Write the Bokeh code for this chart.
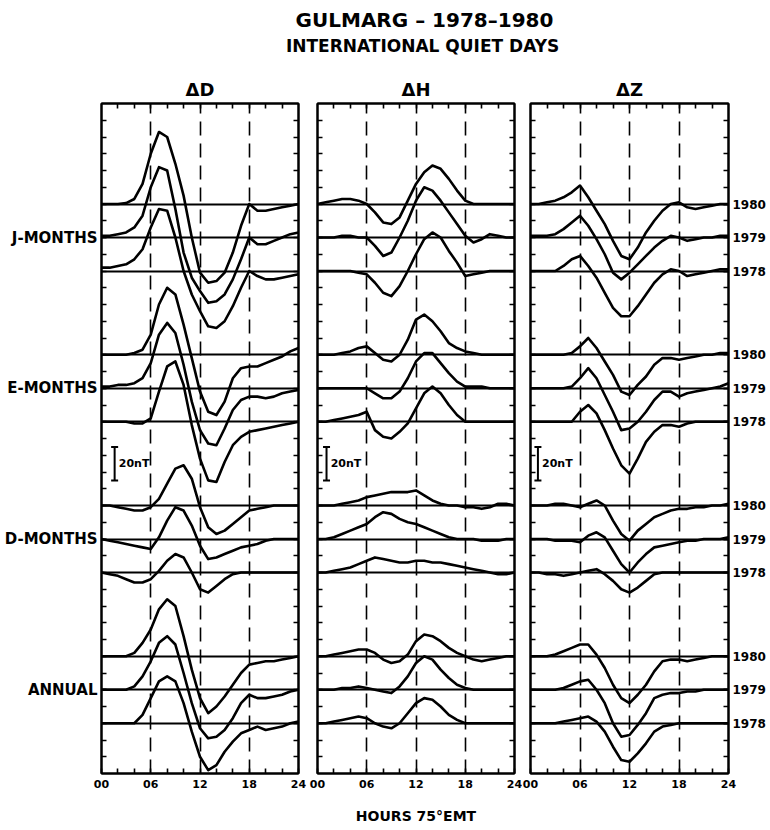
from bokeh.plotting import figure
from bokeh.models import (Range1d, LinearAxis, FixedTicker, PrintfTickFormatter,
                          Whisker, TeeHead, ColumnDataSource)
from bokeh.layouts import column, row
from bokeh.embed import file_html
from bokeh.resources import INLINE
from bokeh.core.properties import value

# ---------------- data (nT, hourly, 00..24 h 75°EMT) ----------------
HOURS = list(range(25))
COMPONENTS = ["ΔD", "ΔH", "ΔZ"]
SEASONS = ["J-MONTHS", "E-MONTHS", "D-MONTHS", "ANNUAL"]
YEARS = ["1980", "1979", "1978"]
X_TICKS = [0, 6, 12, 18, 24]
X_MINOR = [2, 4, 8, 10, 14, 16, 20, 22]
SCALE_NT = 20

D_J_1980 = [0, 0, 0, 0.5, 3, 12, 30, 43, 40, 24, 5, -20, -41, -47, -46, -41, -29, -13, 0, -4, -4, -3, -2, -1, 0]
D_J_1979 = [1, 1, 2, 3, 6, 13, 30, 42, 40, 17, -9, -24, -32, -39, -38, -34, -25, -13, 0, -4, -4, -2, 0, 2, 3]
D_J_1978 = [2, 2, 3, 4, 7, 13, 26, 37, 36, 20, 0, -14, -24, -33, -34, -30, -21, -10, 0, -3, -5, -5, -4, -3, -2]
D_E_1980 = [0, 0, 0, 0, 1, 3, 12, 30, 40, 36, 18, -2, -22, -34, -36, -28, -14, -8, -7, -7, -5, -3, -1, 2, 4]
D_E_1979 = [1, 1, 2, 2, 3, 6, 15, 32, 39, 33, 14, -8, -25, -33, -34, -24, -13, -7, -5, -5, -6, -5, -3, -2, -1]
D_E_1978 = [0, 0, 0, 0, -1, -1, 2, 18, 33, 36, 22, -2, -22, -35, -36, -24, -14, -9, -6, -5, -4, -3, -2, -1, 0]
D_D_1980 = [0, 0, -1, -2, -3, -3, -1, 4, 13, 22, 24, 16, -1, -13, -17, -15, -11, -7, -3, -2, -1, 0, 0, 0, 0]
D_D_1979 = [0, -1, -2, -3, -4, -5, -6, 1, 11, 19, 17, 8, -4, -12, -11, -9, -7, -5, -4, -3, -1, 0, 0, 0, 0]
D_D_1978 = [0, -1, -2, -4, -6, -6, -4, 1, 7, 11, 9, 0, -10, -12, -8, -4, -1, 0, 0, 0, 0, 0, 0, 0, 0]
D_A_1980 = [0, 0, 0, 0, 2, 8, 16, 28, 34, 30, 12, -8, -25, -34, -30, -24, -17, -10, -5, -4, -3, -3, -2, -1, 0]
D_A_1979 = [0, 0, 0, 0, 2, 8, 17, 28, 32, 27, 10, -8, -23, -29, -28, -24, -17, -8, -3, -5, -5, -4, -3, -1, 0]
D_A_1978 = [0, 0, 0, 0, 0, 5, 15, 25, 28, 25, 12, -5, -20, -28, -25, -17, -11, -6, -4, -2, -4, -3, -2, 0, 1]

H_J_1980 = [0, 1, 2, 3, 3, 2, 0, -5, -11, -12, -8, 2, 12, 19, 23, 21, 15, 8, 2, 0, 0, 0, 0, 0, 0]
H_J_1979 = [0, 0, 0, 1, 1, 0, 0, -5, -11, -9, 0, 10, 22, 30, 28, 22, 15, 8, 1, -3, -1, 2, 1, 0, 0]
H_J_1978 = [0, 0, 0, 0, 0, -1, -2, -7, -13, -15, -9, 0, 10, 19, 23, 20, 12, 5, -3, -2, -1, 0, 0, 0, 0]
H_E_1980 = [0, 0, 0, 1, 2, 4, 5, 1, -3, -4, 0, 9, 21, 24, 20, 14, 7, 4, 2, 1, 0, 0, 0, 0, 0]
H_E_1979 = [0, 0, 0, 0, 0, 0, 0, -3, -6, -6, -2, 6, 16, 21, 21, 15, 9, 4, 1, 1, 1, 0, 0, 0, 0]
H_E_1978 = [0, 0, 1, 2, 3, 4, 6, -5, -9, -10, -6, -1, 8, 17, 21, 17, 10, 4, 0, 0, 0, 0, 0, 0, 0]
H_D_1980 = [0, 0, 0, 1, 2, 3, 5, 6, 7, 8, 8, 8, 9, 6, 3, 1, 0, 0, -1, -1, -2, -1, 1, 1, 0]
H_D_1979 = [0, 0, 1, 3, 5, 7, 9, 13, 16, 15, 12, 10, 9, 7, 5, 3, 1, 0, 0, 0, -1, -1, -1, 0, 0]
H_D_1978 = [0, 0, 1, 2, 3, 5, 7, 9, 8, 7, 6, 6, 7, 7, 6, 6, 5, 4, 3, 2, 1, 0, -1, -1, 0]
H_A_1980 = [0, 0, 1, 2, 3, 4, 4, 2, -2, -4, -3, 1, 9, 13, 12, 9, 5, 2, 0, -2, -3, -2, -1, 0, 0]
H_A_1979 = [0, 0, 0, 1, 1, 2, 1, 0, -1, -2, 2, 8, 16, 20, 18, 12, 7, 3, 1, 0, 0, 0, 0, 0, 0]
H_A_1978 = [0, 0, 1, 2, 3, 4, 3, 0, -2, -3, 0, 6, 12, 15, 14, 10, 5, 2, 0, 0, 0, 0, 0, 0, 0]

Z_J_1980 = [0, 0, 1, 2, 4, 7, 11, 4, -4, -12, -22, -31, -33, -26, -17, -10, -4, 0, 1, -2, -3, -2, -1, 0, 0]
Z_J_1979 = [1, 1, 1, 2, 5, 9, 13, 7, -1, -10, -21, -25, -21, -16, -11, -6, -2, 1, 0, -2, -1, 0, 0, 1, 1]
Z_J_1978 = [0, 0, 0, 0, 3, 7, 9, 3, -4, -13, -22, -27, -27, -21, -14, -7, -2, 1, 0, -3, -2, -1, 0, 1, 1]
Z_E_1980 = [0, 0, 0, 0, 0, 1, 5, 10, 4, -4, -12, -22, -24, -18, -13, -6, -2, -2, -3, -2, -1, 0, 0, 1, 1]
Z_E_1979 = [0, 0, 0, 0, 0, 1, 6, 12, 6, -4, -14, -25, -24, -20, -14, -7, -2, -2, -5, -3, -2, -1, 0, 1, 3]
Z_E_1978 = [0, 0, 0, 0, 0, 0, 6, 10, 5, -5, -16, -26, -31, -22, -12, -6, -2, -2, -3, -1, 0, 0, 0, 0, 0]
Z_D_1980 = [0, 0, 0, 1, 1, 0, -1, 1, 3, 0, -9, -17, -21, -15, -11, -7, -5, -3, -2, -2, -1, -1, 0, 0, 1]
Z_D_1979 = [0, 0, 0, -1, -1, -1, -2, 2, 4, 1, -7, -15, -20, -14, -9, -5, -4, -3, -2, -1, -1, 0, 0, 0, 1]
Z_D_1978 = [0, 0, -1, -1, -2, -1, 0, 1, 2, -1, -5, -10, -12, -9, -5, -1, 0, 0, 0, 0, 0, 0, 0, 0, 0]
Z_A_1980 = [0, 0, 0, 1, 3, 5, 7, 7, 1, -7, -17, -25, -28, -23, -17, -9, -3, -2, -2, -3, -2, -1, 0, 0, 0]
Z_A_1979 = [0, 0, 0, 0, 1, 3, 5, 6, 0, -8, -20, -28, -27, -21, -14, -5, -3, -2, -2, -1, -1, 0, 0, 0, 0]
Z_A_1978 = [0, 0, 0, 0, 1, 2, 3, 4, 1, -5, -14, -22, -23, -18, -12, -5, -2, -1, 0, 0, 0, 0, 0, 0, 0]

DATA = {
    "ΔD": {"J-MONTHS": [D_J_1980, D_J_1979, D_J_1978], "E-MONTHS": [D_E_1980, D_E_1979, D_E_1978],
           "D-MONTHS": [D_D_1980, D_D_1979, D_D_1978], "ANNUAL": [D_A_1980, D_A_1979, D_A_1978]},
    "ΔH": {"J-MONTHS": [H_J_1980, H_J_1979, H_J_1978], "E-MONTHS": [H_E_1980, H_E_1979, H_E_1978],
           "D-MONTHS": [H_D_1980, H_D_1979, H_D_1978], "ANNUAL": [H_A_1980, H_A_1979, H_A_1978]},
    "ΔZ": {"J-MONTHS": [Z_J_1980, Z_J_1979, Z_J_1978], "E-MONTHS": [Z_E_1980, Z_E_1979, Z_E_1978],
           "D-MONTHS": [Z_D_1980, Z_D_1979, Z_D_1978], "ANNUAL": [Z_A_1980, Z_A_1979, Z_A_1978]},
}

# ---------------- layout constants ----------------
FONT = "DejaVu Sans"
SEASON_CENTER = {"J-MONTHS": 320, "E-MONTHS": 230, "D-MONTHS": 140, "ANNUAL": 50}
YEAR_SHIFT = {"1980": 20, "1979": 0, "1978": -20}
Y_MINOR = list(range(10, 400, 10))
BASELINES = sorted(SEASON_CENTER[s] + YEAR_SHIFT[y] for s in SEASONS for y in YEARS)

HEADER_H = 60
ROW_H = 830 - HEADER_H
FRAME_TOP = 103 - HEADER_H
FRAME_BOTTOM = ROW_H - (773 - HEADER_H)

PANELS = {
    "ΔD": dict(width=307, left=101, right=9, bar_x=1.6, lab_x=2.1),
    "ΔH": dict(width=215, left=10, right=8, bar_x=1.1, lab_x=1.6),
    "ΔZ": dict(width=248, left=8, right=42, bar_x=0.9, lab_x=1.4),
}


def style_axis(ax, labels=True, size="11px"):
    ax.axis_line_width = 2
    ax.axis_line_color = "black"
    ax.major_tick_in = 5
    ax.major_tick_out = 0
    ax.minor_tick_in = 5
    ax.minor_tick_out = 0
    ax.major_tick_line_width = 1.6
    ax.minor_tick_line_width = 1.6
    ax.major_tick_line_color = "black"
    ax.minor_tick_line_color = "black"
    ax.major_label_text_font = FONT
    ax.major_label_text_font_style = "bold"
    ax.major_label_text_color = "black"
    ax.major_label_text_font_size = size if labels else "0px"


def make_panel(comp, idx):
    cfg = PANELS[comp]
    p = figure(width=cfg["width"], height=ROW_H, x_range=Range1d(0, 24), y_range=Range1d(0, 400),
               output_backend="svg", toolbar_location=None, title=comp,
               min_border_left=cfg["left"], min_border_right=cfg["right"],
               min_border_top=FRAME_TOP, min_border_bottom=FRAME_BOTTOM)
    p.outline_line_color = "black"
    p.outline_line_width = 2
    p.background_fill_color = "white"
    p.border_fill_color = "white"

    p.title.align = "center"
    p.title.text_font = FONT
    p.title.text_font_style = "bold"
    p.title.text_font_size = "18px"
    p.title.text_color = "black"
    p.title.standoff = 8

    # bottom axis: hours
    bx = p.xaxis[0]
    bx.ticker = FixedTicker(ticks=X_TICKS, minor_ticks=X_MINOR)
    bx.formatter = PrintfTickFormatter(format="%02d")
    style_axis(bx)
    bx.major_label_standoff = 6
    if comp == "ΔH":
        bx.axis_label = "HOURS 75°EMT"
        bx.axis_label_text_font = FONT
        bx.axis_label_text_font_style = "bold"
        bx.axis_label_text_font_size = "14px"
        bx.axis_label_text_color = "black"
        bx.axis_label_standoff = 17

    # left axis
    ly = p.yaxis[0]
    if idx == 0:
        ly.ticker = FixedTicker(ticks=[SEASON_CENTER[s] for s in SEASONS], minor_ticks=Y_MINOR)
        ly.major_label_overrides = {SEASON_CENTER[s]: s for s in SEASONS}
        style_axis(ly, size="15px")
        ly.major_label_standoff = 4
    else:
        ly.ticker = FixedTicker(ticks=[], minor_ticks=Y_MINOR)
        style_axis(ly, labels=False)

    # top axis
    top = LinearAxis(ticker=FixedTicker(ticks=[], minor_ticks=X_MINOR + [6, 12, 18]))
    style_axis(top, labels=False)
    p.add_layout(top, "above")

    # right axis
    if idx == 2:
        ticks = [SEASON_CENTER[s] + YEAR_SHIFT[y] for s in SEASONS for y in YEARS]
        ry = LinearAxis(ticker=FixedTicker(ticks=ticks, minor_ticks=Y_MINOR))
        ry.major_label_overrides = {SEASON_CENTER[s] + YEAR_SHIFT[y]: y for s in SEASONS for y in YEARS}
        style_axis(ry, size="12px")
        ry.major_label_standoff = 4
    else:
        ry = LinearAxis(ticker=FixedTicker(ticks=[], minor_ticks=Y_MINOR))
        style_axis(ry, labels=False)
    p.add_layout(ry, "right")

    # dashed hour lines and baselines
    p.xgrid.ticker = FixedTicker(ticks=[6, 12, 18])
    p.xgrid.grid_line_color = "black"
    p.xgrid.grid_line_width = 1.6
    p.xgrid.grid_line_dash = "14 8"
    p.ygrid.ticker = FixedTicker(ticks=BASELINES)
    p.ygrid.grid_line_color = "black"
    p.ygrid.grid_line_width = 2

    # curves
    for s in SEASONS:
        for y, vals in zip(YEARS, DATA[comp][s]):
            base = SEASON_CENTER[s] + YEAR_SHIFT[y]
            p.line(HOURS, [v + base for v in vals], line_color="black", line_width=2.6,
                   line_join="round", line_cap="round")

    # 20 nT scale bar
    mid = (SEASON_CENTER["E-MONTHS"] + SEASON_CENTER["D-MONTHS"]) / 2
    src = ColumnDataSource(dict(x=[cfg["bar_x"]], lower=[mid - SCALE_NT / 2], upper=[mid + SCALE_NT / 2]))
    p.add_layout(Whisker(source=src, base="x", lower="lower", upper="upper", dimension="height",
                         line_color="black", line_width=2,
                         lower_head=TeeHead(size=7, line_width=2, line_color="black"),
                         upper_head=TeeHead(size=7, line_width=2, line_color="black")))
    p.text(x=[cfg["lab_x"]], y=[mid], text=[f"{SCALE_NT}nT"], text_font=value(FONT),
           text_font_style="bold", text_font_size="11px", text_baseline="middle",
           text_align="left", text_color="black")
    return p


header = figure(width=770, height=HEADER_H, x_range=Range1d(0, 770), y_range=Range1d(HEADER_H, 0),
                output_backend="svg", toolbar_location=None, x_axis_location=None,
                y_axis_location=None, min_border=0, outline_line_color=None)
header.xgrid.visible = False
header.ygrid.visible = False
header.text(x=[424], y=[19], text=["GULMARG – 1978–1980"], text_font=value(FONT),
            text_font_style="bold", text_font_size="20px", text_align="center",
            text_baseline="middle", text_color="black")
header.text(x=[428], y=[45], text=["INTERNATIONAL  QUIET  DAYS"], text_font=value(FONT),
            text_font_style="bold", text_font_size="17px", text_align="center",
            text_baseline="middle", text_color="black")

panels = [make_panel(c, i) for i, c in enumerate(COMPONENTS)]
layout = column(header, row(*panels))

open("out.html", "w").write(file_html(layout, INLINE))
